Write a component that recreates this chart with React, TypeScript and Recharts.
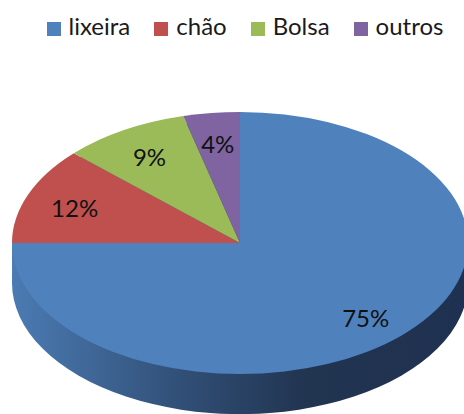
import { PieChart, Pie, Cell, Legend } from 'recharts';

// data
const categories = ['lixeira', 'chão', 'Bolsa', 'outros'];
const shares = [75, 12, 9, 4];
const colors = ['#4F81BD', '#C0504D', '#9BBB59', '#8064A2'];

const data = categories.map((name, i) => ({ name, value: shares[i] }));
// one full disc, drawn a few times below the top face to make the 3D side
const wallData = [{ name: 'wall', value: 1 }];
const wallOffsets = [40, 32, 24, 16, 8];

const TILT = 0.575; // vertical squash of the disc
const LEGEND_H = 30; // legend height, recharts adds it to the top offset
const CX = 240;
const CY = 243 - LEGEND_H;
const R = 228;
const FONT = 'Lato, "Open Sans", sans-serif';
const RAD = Math.PI / 180;

// labels are not inside the squashed group, so squash their positions by hand
function renderLabel(props: any) {
  const { cx, cy, midAngle, outerRadius, value } = props;
  const r = outerRadius * 0.78;
  const x = cx + r * Math.cos(-midAngle * RAD);
  const y = cy + r * Math.sin(-midAngle * RAD) * TILT + 2;
  return (
    <text x={x} y={y} textAnchor="middle" dominantBaseline="central" fill="#111" fontSize={24} fontFamily={FONT}>
      {`${value}%`}
    </text>
  );
}

function renderLegend(props: any) {
  const items = (props.payload || [])
    .filter((p: any) => categories.includes(p.value))
    .sort((a: any, b: any) => categories.indexOf(a.value) - categories.indexOf(b.value));
  return (
    <div
      style={{
        display: 'flex',
        justifyContent: 'center',
        alignItems: 'center',
        height: LEGEND_H,
        lineHeight: `${LEGEND_H}px`,
        paddingLeft: 26,
        fontFamily: FONT,
        fontSize: 24,
        color: '#1a1a1a',
      }}
    >
      {items.map((p: any, i: number) => (
        <div key={p.value} style={{ display: 'flex', alignItems: 'center', marginRight: i < items.length - 1 ? 24 : 0 }}>
          <span
            style={{
              width: 14,
              height: 14,
              background: colors[categories.indexOf(p.value)],
              marginRight: 8,
              display: 'inline-block',
              transform: 'translateY(3px)',
            }}
          />
          <span>{p.value}</span>
        </div>
      ))}
    </div>
  );
}

export default function App() {
  return (
    <div style={{ position: 'absolute', left: 0, top: 0, width: 464, height: 414, background: '#fff' }}>
      <style>{`.recharts-pie { transform: scaleY(${TILT}); transform-box: fill-box; transform-origin: center; }`}</style>
      <PieChart width={464} height={414} margin={{ top: 0, right: 0, bottom: 0, left: 0 }}>
        <defs>
          <linearGradient id="wallGrad" gradientUnits="userSpaceOnUse" x1={CX - R} y1={0} x2={CX + R} y2={0}>
            <stop offset="0%" stopColor="#4b7bb3" />
            <stop offset="40%" stopColor="#2f4c72" />
            <stop offset="65%" stopColor="#213450" />
            <stop offset="100%" stopColor="#1f3150" />
          </linearGradient>
        </defs>
        {wallOffsets.map((d) => (
          <Pie
            key={d}
            data={wallData}
            dataKey="value"
            cx={CX}
            cy={CY + d}
            outerRadius={R}
            fill="url(#wallGrad)"
            stroke="none"
            legendType="none"
            isAnimationActive={false}
          />
        ))}
        <Pie
          data={data}
          dataKey="value"
          nameKey="name"
          cx={CX}
          cy={CY}
          outerRadius={R}
          startAngle={90}
          endAngle={-270}
          stroke="none"
          label={renderLabel}
          labelLine={false}
          isAnimationActive={false}
        >
          {data.map((d, i) => (
            <Cell key={d.name} fill={colors[i]} />
          ))}
        </Pie>
        <Legend verticalAlign="top" align="center" content={renderLegend} wrapperStyle={{ top: 11, left: 0, width: 464 }} />
      </PieChart>
    </div>
  );
}
